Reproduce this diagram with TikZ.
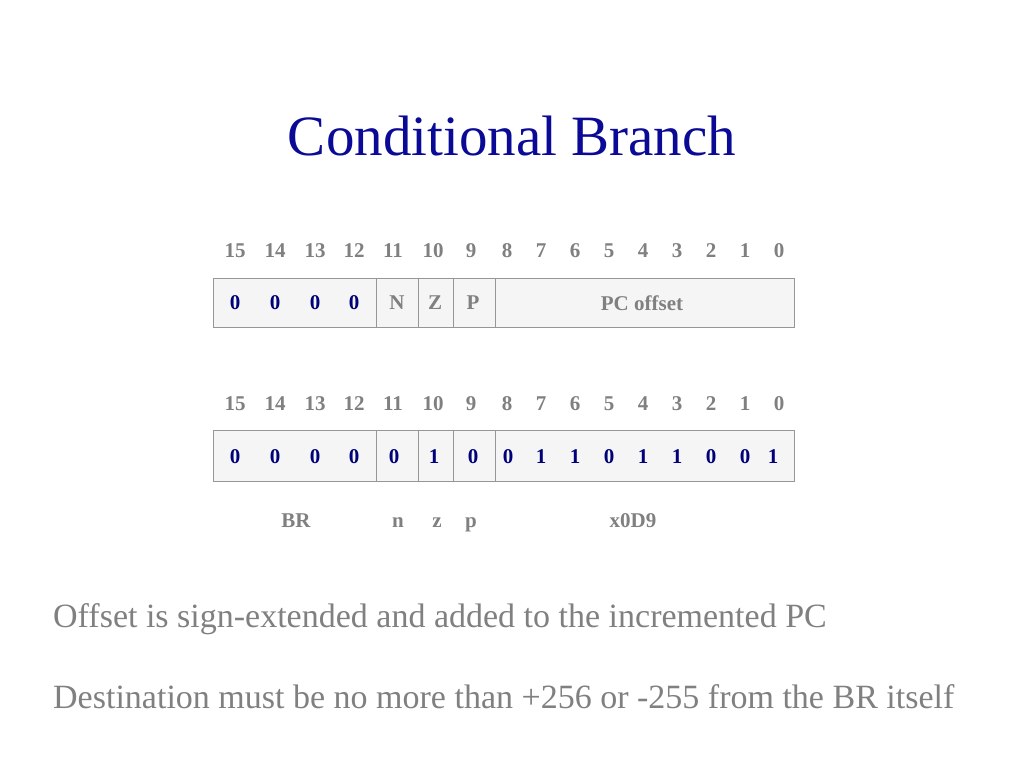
\documentclass[tikz,border=0pt]{standalone}
\usepackage{fontspec}
\setmainfont{Liberation Serif}
\usetikzlibrary{positioning}

\definecolor{titleblue}{RGB}{10,10,150}
\definecolor{bitblue}{RGB}{0,0,120}
\definecolor{textgray}{RGB}{128,128,128}
\definecolor{cellgray}{RGB}{245,245,245}
\definecolor{linegray}{RGB}{150,150,150}

\tikzset{
	bitnum/.style = {text = textgray, font = \fontsize{21}{24}\selectfont\bfseries, inner sep = 0pt},
	bitval/.style = {text = bitblue, font = \fontsize{21}{24}\selectfont\bfseries, inner sep = 0pt},
	field/.style = {text = textgray, font = \fontsize{21}{24}\selectfont\bfseries, inner sep = 0pt},
	cell/.style = {draw = linegray, fill = cellgray, line width = 1pt}
}

\begin{document}
\begin{tikzpicture}[x = 1pt, y = -1pt]
	\useasboundingbox[fill = white] (0,0) rectangle (1024,768);

	% title
	\node[text = titleblue, font = \fontsize{57}{60}\selectfont] (TITLE) at (512,136) {Conditional Branch};

	% bit numbers over both words
	\foreach \n/\x in {15/235, 14/275, 13/315, 12/354, 11/393, 10/433, 9/471, 8/507,
			7/541, 6/575, 5/609, 4/643, 3/677, 2/711, 1/745, 0/779} {
		\node[bitnum] (HA\n) at (\x,251) {\n};
		\node[bitnum] (HB\n) at (\x,404) {\n};
	}

	% instruction format
	\draw[cell] (213,278) rectangle (794,327);
	\draw[linegray, line width = 1pt] (376,278) -- (376,327) (418,278) -- (418,327)
		(453,278) -- (453,327) (495,278) -- (495,327);
	\foreach \x [count = \i] in {235, 275, 315, 354}
		\node[bitval] (OPA\i) at (\x,303) {0};
	\node[field] (N) at (397,303) {N};
	\node[field] (Z) at (435,303) {Z};
	\node[field] (P) at (473,303) {P};
	\node[field] (OFF) at (642,303) {PC offset};

	% example instruction
	\draw[cell] (213,430) rectangle (794,481);
	\draw[linegray, line width = 1pt] (376,430) -- (376,481) (418,430) -- (418,481)
		(453,430) -- (453,481) (495,430) -- (495,481);
	\foreach \b/\x [count = \i] in {0/235, 0/275, 0/315, 0/354, 0/394, 1/434, 0/473, 0/508,
			1/541, 1/575, 0/609, 1/643, 1/677, 0/711, 0/745, 1/773}
		\node[bitval] (B\i) at (\x,457) {\b};

	% field names
	\node[field, anchor = base] (BR) at (296,527) {BR};
	\node[field, anchor = base] (n) at (398,527) {n};
	\node[field, anchor = base] (z) at (437,527) {z};
	\node[field, anchor = base] (p) at (471,527) {p};
	\node[field, anchor = base] (HEX) at (633,527) {x0D9};

	% notes
	\node[anchor = base west, inner sep = 0pt, text = textgray, font = \fontsize{34}{38}\selectfont]
		(NOTEA) at (53,627) {Offset is sign-extended and added to the incremented PC};
	\node[anchor = base west, inner sep = 0pt, text = textgray, font = \fontsize{34}{38}\selectfont]
		(NOTEB) at (53,708) {Destination must be no more than +256 or -255 from the BR itself};
\end{tikzpicture}
\end{document}
